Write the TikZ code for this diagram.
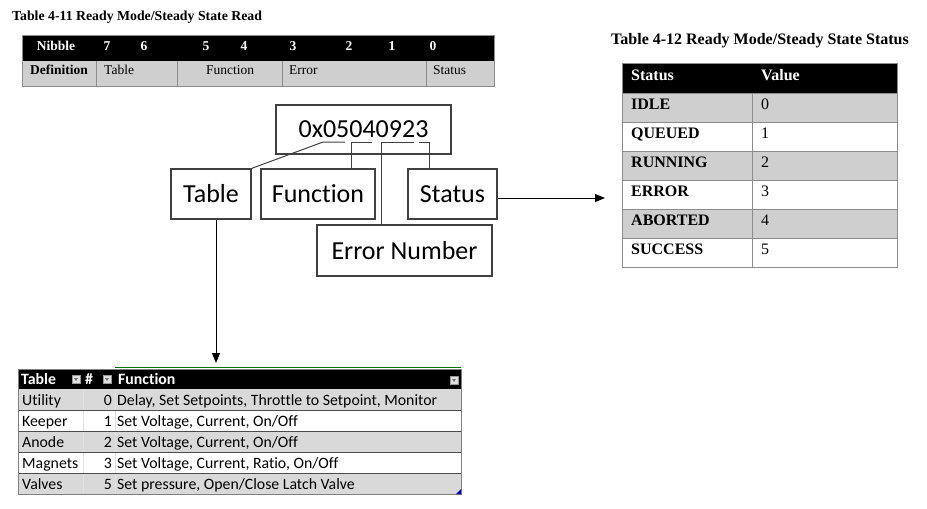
\documentclass[tikz,border=0pt]{standalone}
\usepackage{fontspec}
\setmainfont{Liberation Serif}
\newfontfamily\carlito[Ligatures=NoCommon]{Carlito}
\usetikzlibrary{arrows.meta}

\begin{document}
\begin{tikzpicture}[x=1pt,y=-1pt,
  bx/.style={draw=black!75,line width=1.1pt,fill=white,inner sep=0pt,minimum height=50pt,font=\carlito\fontsize{26}{30}\selectfont},
  lnk/.style={draw=black!75,line width=1pt},
  arr/.style={draw=black,line width=1pt,-{Triangle[length=10pt,width=8pt]}},
  grid/.style={draw=black!45,line width=0.8pt},
  cell/.style={inner sep=0pt,anchor=base west},
  hd/.style={cell,text=white,font=\bfseries\fontsize{13.5}{16}\selectfont},
  df/.style={cell,font=\fontsize{13.5}{16}\selectfont},
  sh/.style={cell,text=white,font=\bfseries\fontsize{16}{19}\selectfont},
  sb/.style={cell,font=\bfseries\fontsize{16}{19}\selectfont},
  sv/.style={cell,font=\fontsize{16}{19}\selectfont},
  xh/.style={cell,text=white,font=\carlito\bfseries\fontsize{15.8}{18}\selectfont},
  xc/.style={cell,font=\carlito\fontsize{15.8}{18}\selectfont},
  dd/.style={draw=black!40,fill=black!12,line width=0.4pt}]
\useasboundingbox (0,0) rectangle (927,509);

\node[cell,font=\bfseries\fontsize{13.8}{16}\selectfont] (t411) at (12,20) {Table 4-11 Ready Mode/Steady State Read};
\node[cell,font=\bfseries\fontsize{16}{19}\selectfont] (t412) at (611,44) {Table 4-12 Ready Mode/Steady State Status};

\fill[black] (22,35) rectangle (494,61);
\fill[black!19] (22,61) rectangle (494,86);
\draw[grid] (22,35) rectangle (494,86);
\draw[grid] (96,61) -- (96,86);
\draw[grid] (177,61) -- (177,86);
\draw[grid] (282,61) -- (282,86);
\draw[grid] (426,61) -- (426,86);
\node[hd,anchor=base] (nib) at (56,50) {Nibble};
\node[hd,anchor=base] (n7) at (107,50) {7};
\node[hd,anchor=base] (n6) at (144,50) {6};
\node[hd,anchor=base] (n5) at (206,50) {5};
\node[hd,anchor=base] (n4) at (244,50) {4};
\node[hd,anchor=base] (n3) at (293,50) {3};
\node[hd,anchor=base] (n2) at (349,50) {2};
\node[hd,anchor=base] (n1) at (392,50) {1};
\node[hd,anchor=base] (n0) at (433,50) {0};
\node[df,anchor=base,font=\bfseries\fontsize{13.5}{16}\selectfont] (def) at (59,74) {Definition};
\node[df] (dtab) at (104,74) {Table};
\node[df,anchor=base] (dfun) at (230,74) {Function};
\node[df] (derr) at (289,74) {Error};
\node[df] (dst) at (433,74) {Status};

\fill[black] (622,63) rectangle (897,93);
\fill[black!19] (622,93) rectangle (897,122);
\fill[black!19] (622,151) rectangle (897,180);
\fill[black!19] (622,209) rectangle (897,238);
\draw[grid] (622,63) rectangle (897,267);
\draw[grid] (622,93) -- (897,93);
\draw[grid] (622,122) -- (897,122);
\draw[grid] (622,151) -- (897,151);
\draw[grid] (622,180) -- (897,180);
\draw[grid] (622,209) -- (897,209);
\draw[grid] (622,238) -- (897,238);
\draw[grid] (752,93) -- (752,267);
\node[sh] (hst) at (631,80) {Status};
\node[sh] (hval) at (761,80) {Value};
\node[sb] (s0) at (631,109) {IDLE};
\node[sv] (v0) at (761,109) {0};
\node[sb] (s1) at (631,138) {QUEUED};
\node[sv] (v1) at (761,138) {1};
\node[sb] (s2) at (631,167) {RUNNING};
\node[sv] (v2) at (761,167) {2};
\node[sb] (s3) at (631,196) {ERROR};
\node[sv] (v3) at (761,196) {3};
\node[sb] (s4) at (631,225) {ABORTED};
\node[sv] (v4) at (761,225) {4};
\node[sb] (s5) at (631,254) {SUCCESS};
\node[sv] (v5) at (761,254) {5};

\node[bx,minimum width=175pt,minimum height=49pt] (hex) at (363.5,129.5) {0x05040923};
\node[bx,minimum width=80pt] (tbl) at (211,194) {Table};
\node[bx,minimum width=114pt] (fun) at (318,194) {Function};
\node[bx,minimum width=89pt] (stat) at (452.5,194) {Status};
\node[bx,minimum width=175pt,minimum height=51pt] (err) at (404.5,250.5) {Error Number};
\coordinate (ta) at (323,142);
\coordinate (tb) at (345,142);
\coordinate (fa) at (351,142);
\coordinate (fb) at (372,142);
\coordinate (ea) at (381,142);
\coordinate (eb) at (414,142);
\coordinate (sa) at (419,142);
\coordinate (sc) at (429,142);
\draw[lnk] (tbl.north east) -- (ta) -- (tb);
\draw[lnk] (fb) -- (fa) -- (fa |- fun.north);
\draw[lnk] (eb) -- (ea) -- (ea |- err.north);
\draw[lnk] (sa) -- (sc) -- (sc |- stat.north);
\coordinate (sarr) at (605,198);
\coordinate (tarr) at (216,363);
\draw[arr] (stat.east |- sarr) -- (sarr);
\draw[arr] (tarr |- tbl.south) -- (tarr);

\draw[green!45!black,line width=1pt] (115,367) -- (461,367);
\fill[black] (18,369) rectangle (461,389);
\fill[black!15] (18,389) rectangle (461,410);
\fill[black!15] (18,431) rectangle (461,452);
\fill[black!15] (18,473) rectangle (461,494);
\draw[black!12,line width=0.5pt] (83,389) -- (83,494);
\draw[black!12,line width=0.5pt] (115,389) -- (115,494);
\draw[black!70,line width=0.7pt] (18,410) -- (461,410);
\draw[black!70,line width=0.7pt] (18,431) -- (461,431);
\draw[black!70,line width=0.7pt] (18,452) -- (461,452);
\draw[black!70,line width=0.7pt] (18,473) -- (461,473);
\draw[black!50,line width=0.7pt] (18,369) rectangle (461,494);
\fill[blue!70!black] (456,494) -- (461,494) -- (461,489) -- cycle;
\node[xh] (xtab) at (21,384) {Table};
\node[xh] (xnum) at (85,384) {\#};
\node[xh] (xfun) at (118,384) {Function};
\draw[dd] (72,375) rectangle (80,383);
\draw[dd] (103,375) rectangle (111,383);
\draw[dd] (450,376) rectangle (458,384);
\fill[black!55] (74,378) -- (78,378) -- (76,381) -- cycle;
\fill[black!55] (105,378) -- (109,378) -- (107,381) -- cycle;
\fill[black!55] (452,379) -- (456,379) -- (454,382) -- cycle;
\node[xc] (u0) at (22,405) {Utility};
\node[xc,anchor=base east] (u1) at (112,405) {0};
\node[xc] (u2) at (117,405) {Delay, Set Setpoints, Throttle to Setpoint, Monitor};
\node[xc] (k0) at (22,426) {Keeper};
\node[xc,anchor=base east] (k1) at (112,426) {1};
\node[xc] (k2) at (117,426) {Set Voltage, Current, On/Off};
\node[xc] (a0) at (22,447) {Anode};
\node[xc,anchor=base east] (a1) at (112,447) {2};
\node[xc] (a2) at (117,447) {Set Voltage, Current, On/Off};
\node[xc] (m0) at (22,468) {Magnets};
\node[xc,anchor=base east] (m1) at (112,468) {3};
\node[xc] (m2) at (117,468) {Set Voltage, Current, Ratio, On/Off};
\node[xc] (w0) at (22,489) {Valves};
\node[xc,anchor=base east] (w1) at (112,489) {5};
\node[xc] (w2) at (117,489) {Set pressure, Open/Close Latch Valve};
\end{tikzpicture}
\end{document}
